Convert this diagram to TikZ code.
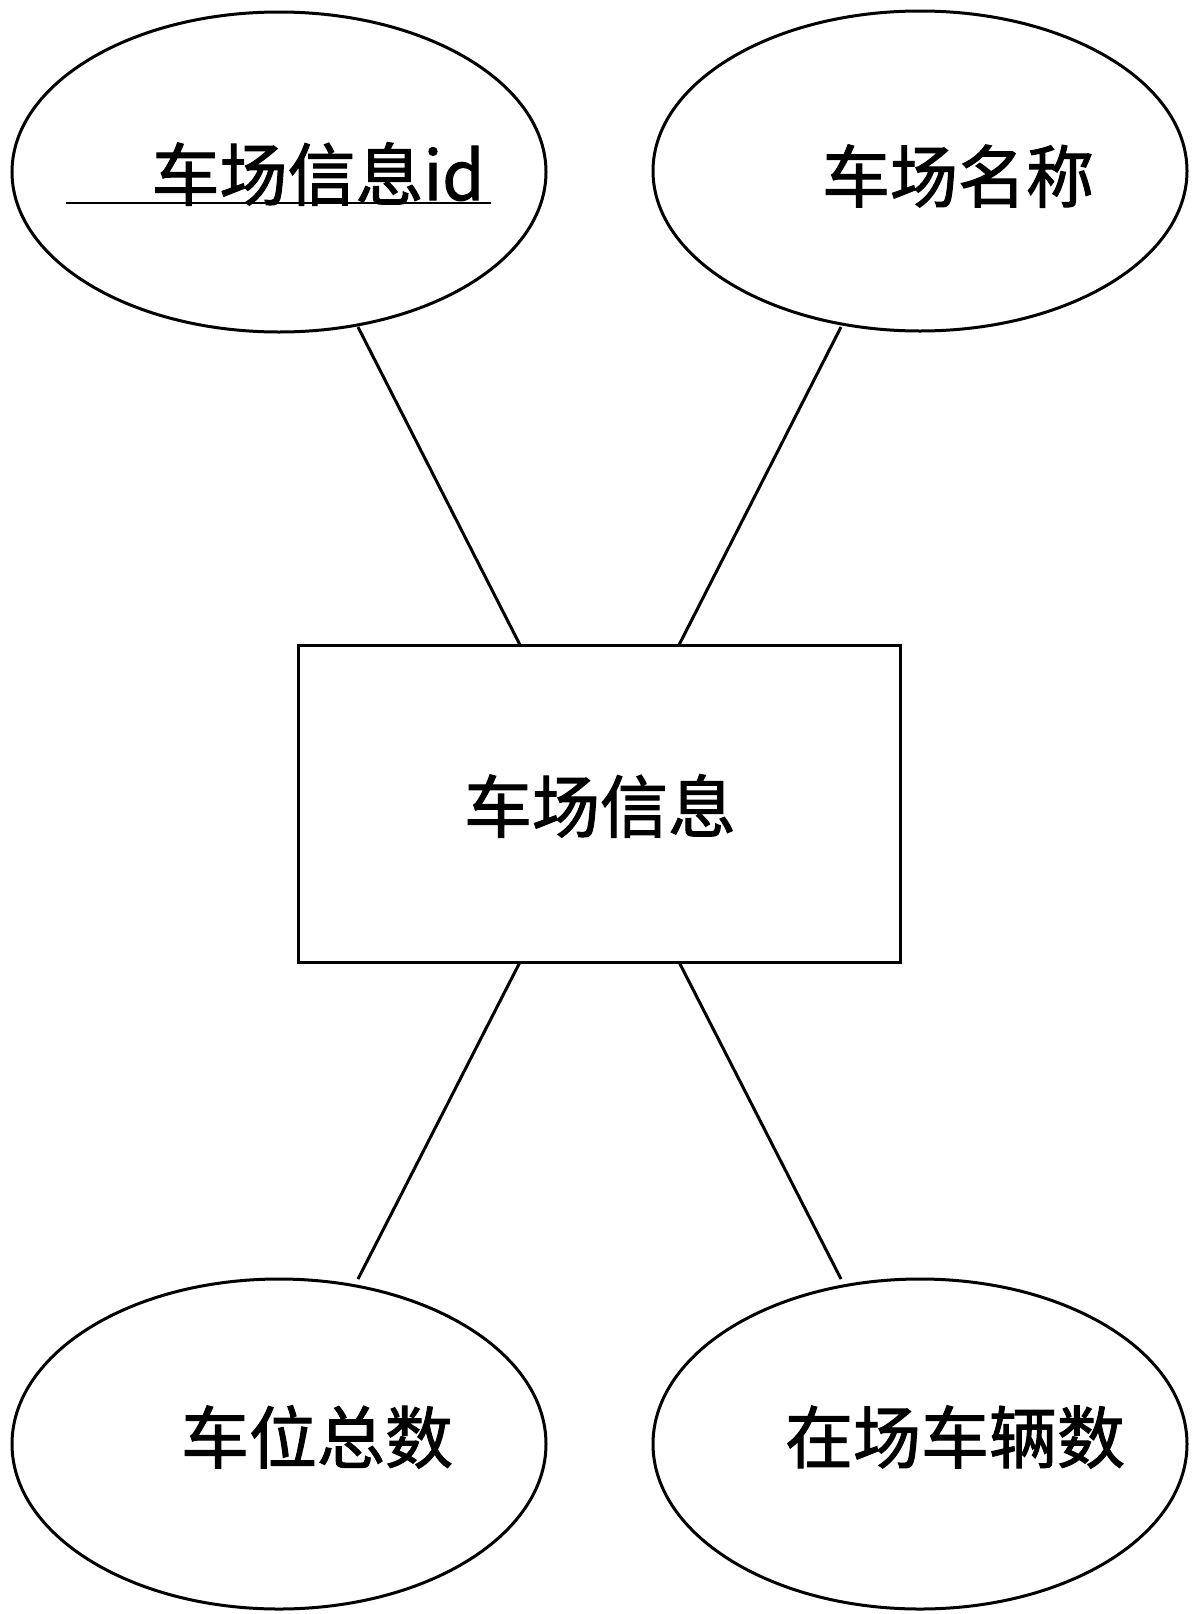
\documentclass[tikz,border=0pt]{standalone}
\usepackage{fontspec}
\newfontfamily\cjk{Noto Sans CJK SC}[FakeBold=1.5]
\usetikzlibrary{shapes.geometric}
\begin{document}
\begin{tikzpicture}[x=1pt,y=-1pt,line width=3pt,
  attr/.style={draw,ellipse,minimum width=534pt,minimum height=320pt,inner sep=0pt},
  lbl/.style={font=\cjk\fontsize{68}{68}\selectfont,inner sep=0pt}]
\useasboundingbox (0,0) rectangle (1200,1614);
\node[attr] (a) at (279,172) {};
\node[attr] (b) at (920,171) {};
\node[attr,minimum height=330pt] (c) at (279,1444) {};
\node[attr,minimum height=330pt] (d) at (920,1444) {};
\node[draw,minimum width=602pt,minimum height=317pt,inner sep=0pt] (r) at (599,803.5) {};
\node[lbl] (ta) at (318,174) {车场信息id};
\draw[line width=2.5pt] (66,203) coordinate (u1) -- (491,203) coordinate (u2);
\node[lbl] (tb) at (958,176) {车场名称};
\node[lbl] (tr) at (600,806) {车场信息};
\node[lbl] (tc) at (317,1437) {车位总数};
\node[lbl] (td) at (955,1437) {在场车辆数};
\coordinate (p1) at (358,327); \coordinate (q1) at (520,645);
\coordinate (p2) at (841,327); \coordinate (q2) at (679,645);
\coordinate (p3) at (358,1279); \coordinate (q3) at (520,962);
\coordinate (p4) at (841,1279); \coordinate (q4) at (679,962);
\draw (p1) -- (q1); \draw (p2) -- (q2); \draw (p3) -- (q3); \draw (p4) -- (q4);
\end{tikzpicture}
\end{document}
